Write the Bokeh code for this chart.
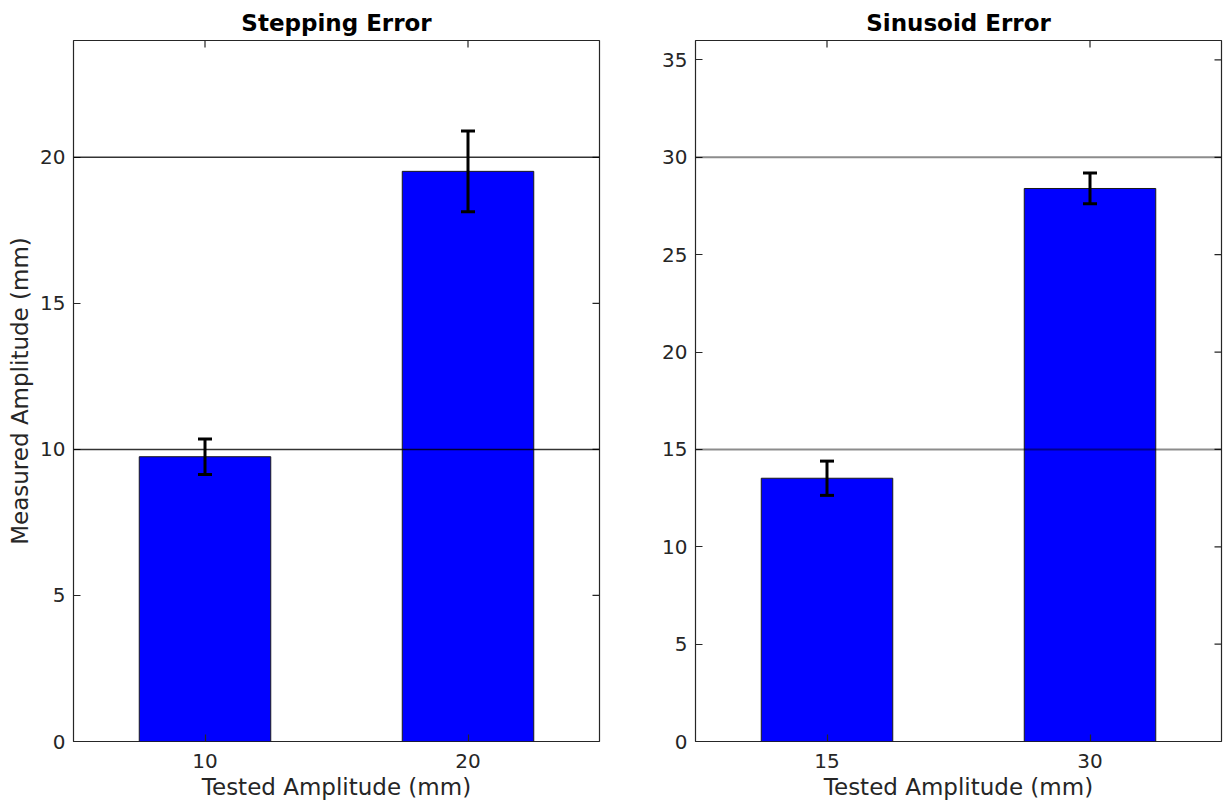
import math
from bokeh.plotting import figure
from bokeh.layouts import row
from bokeh.models import (FactorRange, Range1d, Span, Whisker, TeeHead, ColumnDataSource,
                          FixedTicker)
from bokeh.embed import file_html
from bokeh.resources import INLINE

# ---- data ----
step_cats = ["10", "20"]
step_mean = [9.75, 19.52]
step_err = [0.61, 1.38]
step_refs = [10, 20]
step_yticks = [0, 5, 10, 15, 20]
step_ymax = 24

sin_cats = ["15", "30"]
sin_mean = [13.52, 28.4]
sin_err = [0.88, 0.79]
sin_refs = [15, 30]
sin_yticks = [0, 5, 10, 15, 20, 25, 30, 35]
sin_ymax = 36

FONT = "DejaVu Sans"
TXT = "#262626"


def make_panel(cats, mean, err, refs, yticks, ymax, title, ylabel, width, bl, br,
               ref_color, ref_alpha, ref_w):
    p = figure(width=width, height=806, x_range=FactorRange(*cats), y_range=Range1d(0, ymax),
               output_backend="svg", toolbar_location=None, tools="",
               min_border_left=bl, min_border_right=br, min_border_top=40, min_border_bottom=65)
    p.title.text = title
    p.title.align = "center"
    p.title.text_font = FONT
    p.title.text_font_size = "23px"
    p.title.text_font_style = "bold"
    p.title.text_color = "black"
    p.title.standoff = 9

    p.xgrid.visible = False
    p.ygrid.visible = False
    p.outline_line_color = TXT
    p.outline_line_width = 1.2
    p.background_fill_color = "white"
    p.border_fill_color = "white"

    p.vbar(x=cats, top=mean, width=0.5, fill_color="#0000ff", line_color="#1a1a1a", line_width=1)

    for r in refs:
        p.add_layout(Span(location=r, dimension="width", line_color=ref_color,
                          line_width=ref_w, line_alpha=ref_alpha))

    src = ColumnDataSource(dict(x=cats,
                                upper=[m + e for m, e in zip(mean, err)],
                                lower=[m - e for m, e in zip(mean, err)]))
    w = Whisker(base="x", upper="upper", lower="lower", source=src, level="overlay",
                line_color="black", line_width=3,
                upper_head=TeeHead(size=14, line_width=3, line_color="black"),
                lower_head=TeeHead(size=14, line_width=3, line_color="black"))
    p.add_layout(w)

    # mirrored inward ticks on the top and right edges of the box
    p.ray(x=cats, y=[ymax] * len(cats), length=7, length_units="screen",
          angle=-math.pi / 2, line_color=TXT, line_width=1.2)
    p.ray(x=[len(cats)] * len(yticks), y=yticks, length=7, length_units="screen",
          angle=math.pi, line_color=TXT, line_width=1.2)

    p.yaxis.ticker = FixedTicker(ticks=yticks)

    for ax in p.axis:
        ax.axis_line_color = None
        ax.major_tick_in = 7
        ax.major_tick_out = 0
        ax.minor_tick_line_color = None
        ax.major_tick_line_color = TXT
        ax.major_tick_line_width = 1.2
        ax.major_label_text_font = FONT
        ax.major_label_text_font_size = "20px"
        ax.major_label_text_color = TXT
        ax.axis_label_text_font = FONT
        ax.axis_label_text_font_size = "23px"
        ax.axis_label_text_font_style = "normal"
        ax.axis_label_text_color = TXT

    p.xaxis.axis_label = "Tested Amplitude (mm)"
    p.xaxis.major_label_standoff = 12
    p.xaxis.axis_label_standoff = 3
    p.yaxis.major_label_standoff = 8
    if ylabel:
        p.yaxis.axis_label = ylabel
        p.yaxis.axis_label_standoff = 4
    return p


p1 = make_panel(step_cats, step_mean, step_err, step_refs, step_yticks, step_ymax,
                "Stepping Error", "Measured Amplitude (mm)", 646, 73, 47,
                "black", 0.8, 1.5)
p2 = make_panel(sin_cats, sin_mean, sin_err, sin_refs, sin_yticks, sin_ymax,
                "Sinusoid Error", None, 578, 49, 3,
                "black", 0.45, 2)

layout = row(p1, p2)
open("out.html", "w").write(file_html(layout, INLINE))
